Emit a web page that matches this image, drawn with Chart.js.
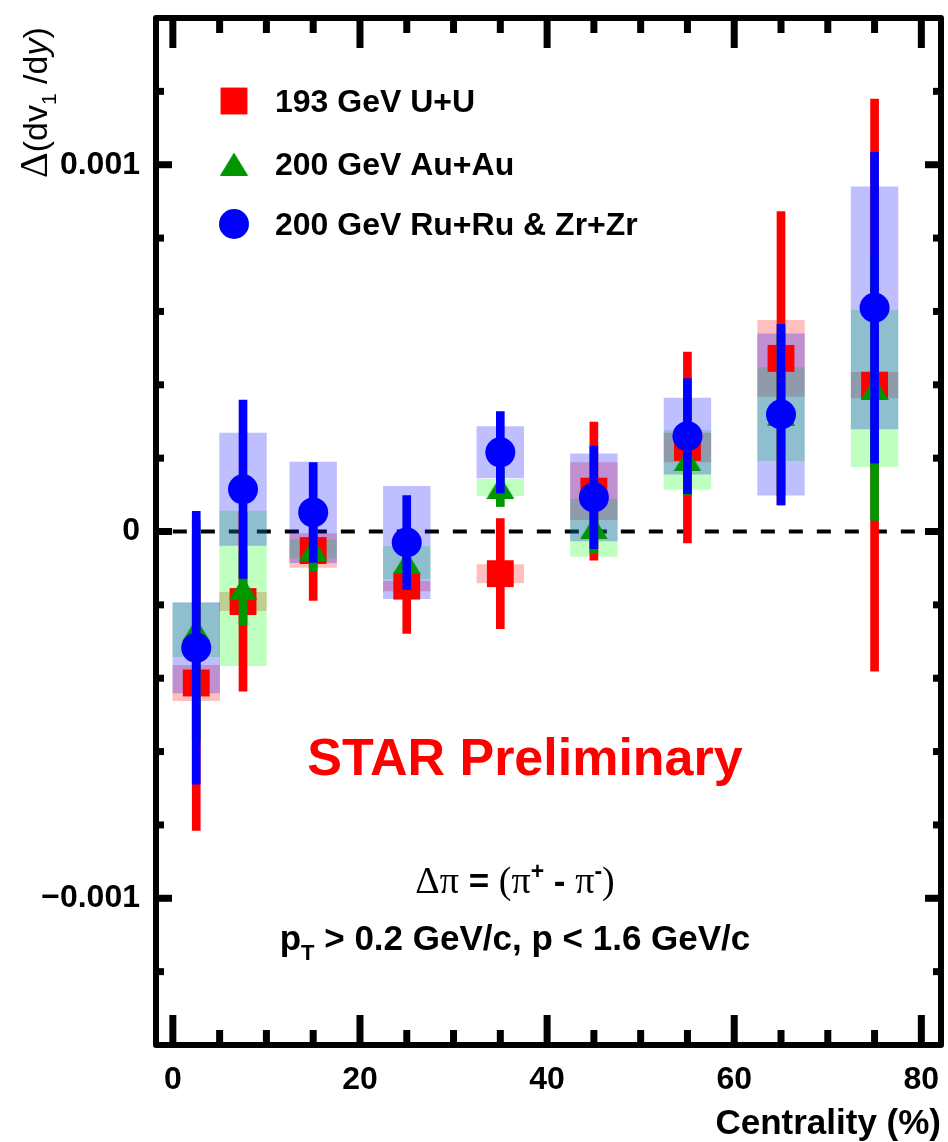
<!DOCTYPE html>
<html>
<head>
<meta charset="utf-8">
<script src="https://cdn.jsdelivr.net/npm/chart.js@4.4.1/dist/chart.umd.min.js"></script>
<style>
  html, body { margin: 0; padding: 0; background: #fff; }
  #chart { display: block; }
</style>
</head>
<body>
<canvas id="chart" width="948" height="1142"></canvas>
<script>
// centrality bin centres (%)
const centrality = [2.5, 7.5, 15, 25, 35, 45, 55, 65, 75];

// 193 GeV U+U
const uuValue = [-0.000413, -0.000191, -0.000052, -0.000149, -0.000115, 0.000110, 0.000229, 0.000472, 0.000399];
const uuStat  = [ 0.000402,  0.000244,  0.000136,  0.000129,  0.000150, 0.000188, 0.000260, 0.000400, 0.000780];
const uuSys   = [ 0.000048,  0.000025,  0.000046,  0.000013,  0.000025, 0.000078, 0.000039, 0.000104, 0.000035];

// 200 GeV Au+Au
const auValue = [-0.000268, -0.000155, -0.000048, -0.000085, 0.000120, 0.000010, 0.000195, 0.000320, 0.000390];
const auStat  = [ 0.000300,  0.000100,  0.000060,  0.000040, 0.000052, 0.000070, 0.000095, 0.000220, 0.000360];
const auSys   = [ 0.000073,  0.000211,  0.000025,  0.000044, 0.000022, 0.000078, 0.000080, 0.000127, 0.000213];

// 200 GeV Ru+Ru & Zr+Zr
const ruValue = [-0.000317, 0.000115, 0.000052, -0.000030, 0.000216, 0.000093, 0.000260, 0.000319, 0.000610];
const ruStat  = [ 0.000372, 0.000243, 0.000136,  0.000128, 0.000111, 0.000140, 0.000157, 0.000246, 0.000424];
const ruSys   = [ 0.000123, 0.000153, 0.000137,  0.000153, 0.000070, 0.000119, 0.000104, 0.000220, 0.000330];

const seriesLabels = ['193 GeV U+U', '200 GeV Au+Au', '200 GeV Ru+Ru & Zr+Zr'];

// axes
const xMin = -1.8, xMax = 82.1;
const yMin = -0.0014, yMax = 0.0014;
const xMajorTicks = [0, 20, 40, 60, 80];
const xMinorTicks = [5, 10, 15, 25, 30, 35, 45, 50, 55, 65, 70, 75];
const yMajorTicks = [-0.001, 0, 0.001];
const yMinorTicks = [-0.0012, -0.0008, -0.0006, -0.0004, -0.0002, 0.0002, 0.0004, 0.0006, 0.0008, 0.0012];

const FONT = "'Liberation Sans', Arial, Helvetica, sans-serif";
const SERIF = "'Liberation Serif', 'Times New Roman', serif";
Chart.defaults.font.family = FONT;
Chart.defaults.color = '#000';

// triangle marker centred on its bounding box (like ROOT)
function makeTriangle(w, h, color) {
  const c = document.createElement('canvas');
  c.width = w; c.height = h;
  const g = c.getContext('2d');
  g.fillStyle = color;
  g.beginPath();
  g.moveTo(0, h); g.lineTo(w / 2, 0); g.lineTo(w, h); g.closePath();
  g.fill();
  return c;
}
const triangle = makeTriangle(28, 23, '#009600');

function boxData(v, s) { return centrality.map((c, i) => ({ x: c, y: [v[i] - s[i], v[i] + s[i]] })); }
function pointData(v) { return centrality.map((c, i) => ({ x: c, y: v[i] })); }

function boxSet(label, v, s, color, order) {
  return { type: 'bar', label, data: boxData(v, s), backgroundColor: color, borderWidth: 0,
           grouped: false, barPercentage: 1, categoryPercentage: 1, order, isBox: true };
}
function errSet(label, v, e, color, order) {
  return { type: 'bar', label, data: boxData(v, e), backgroundColor: color, borderWidth: 0,
           grouped: false, barThickness: 8, order, isErr: true };
}
function markerSet(label, v, color, style, radius, order) {
  return { type: 'scatter', label, data: pointData(v), backgroundColor: color, pointBackgroundColor: color,
           pointStyle: style, pointRadius: radius, pointBorderWidth: 0, borderWidth: 0, order, isMarker: true };
}

const datasets = [
  boxSet('uuSys', uuValue, uuSys, 'rgba(255,0,0,0.25)', 12),
  boxSet('auSys', auValue, auSys, 'rgba(0,255,0,0.25)', 11),
  boxSet('ruSys', ruValue, ruSys, 'rgba(0,0,255,0.25)', 10),
  errSet('uuStat', uuValue, uuStat, '#ff0000', 6),
  markerSet(seriesLabels[0], uuValue, '#ff0000', 'rect', 19, 5),
  errSet('auStat', auValue, auStat, '#009600', 4),
  markerSet(seriesLabels[1], auValue, '#009600', triangle, 14, 3),
  errSet('ruStat', ruValue, ruStat, '#0000ff', 2),
  markerSet(seriesLabels[2], ruValue, '#0000ff', 'circle', 15, 1),
];

function drawRuns(ctx, runs, x, y, align) {
  let total = 0;
  runs.forEach(r => { ctx.font = r.font; r.w = ctx.measureText(r.text).width; total += r.w; });
  let cx = align === 'center' ? x - total / 2 : x;
  ctx.textAlign = 'left';
  ctx.textBaseline = 'alphabetic';
  runs.forEach(r => { ctx.font = r.font; ctx.fillText(r.text, cx, y + (r.dy || 0)); cx += r.w; });
}

// dashed zero line under the boxes
const zeroLine = {
  id: 'zeroLine',
  beforeDatasetsDraw(chart) {
    const { ctx, chartArea, scales } = chart;
    const y = scales.y.getPixelForValue(0);
    ctx.save();
    ctx.strokeStyle = '#000';
    ctx.lineWidth = 4;
    ctx.setLineDash([14, 14]);
    ctx.beginPath();
    ctx.moveTo(scales.x.getPixelForValue(0), y);
    ctx.lineTo(chartArea.right, y);
    ctx.stroke();
    ctx.restore();
  }
};

// thick frame with inward ticks on all four sides
const frame = {
  id: 'frame',
  afterDatasetsDraw(chart) {
    const { ctx, chartArea: a, scales } = chart;
    ctx.save();
    ctx.strokeStyle = '#000';
    ctx.lineWidth = 7;
    ctx.lineCap = 'butt';
    const xt = (vals, len) => vals.forEach(v => {
      const px = scales.x.getPixelForValue(v);
      ctx.beginPath(); ctx.moveTo(px, a.bottom); ctx.lineTo(px, a.bottom - len); ctx.stroke();
      ctx.beginPath(); ctx.moveTo(px, a.top); ctx.lineTo(px, a.top + len); ctx.stroke();
    });
    const yt = (vals, len) => vals.forEach(v => {
      const py = scales.y.getPixelForValue(v);
      ctx.beginPath(); ctx.moveTo(a.left, py); ctx.lineTo(a.left + len, py); ctx.stroke();
      ctx.beginPath(); ctx.moveTo(a.right, py); ctx.lineTo(a.right - len, py); ctx.stroke();
    });
    xt(xMajorTicks, 30); xt(xMinorTicks, 15);
    yt(yMajorTicks, 16); yt(yMinorTicks, 8);
    ctx.lineWidth = 6;
    ctx.lineJoin = 'round';
    ctx.strokeRect(a.left, a.top, a.right - a.left, a.bottom - a.top);
    ctx.restore();
  }
};

// legend, labels and annotations
const annotations = {
  id: 'annotations',
  afterDraw(chart) {
    const { ctx } = chart;
    ctx.save();
    ctx.fillStyle = '#000';

    // legend
    const markers = chart.data.datasets.filter(d => d.isMarker);
    const rowY = [101, 164, 224];
    markers.forEach((d, i) => {
      ctx.fillStyle = d.backgroundColor;
      Chart.helpers.drawPoint(ctx, { pointStyle: d.pointStyle, radius: d.pointRadius, rotation: 0, borderWidth: 0 }, 234, rowY[i]);
      ctx.fillStyle = '#000';
      ctx.font = `bold 32px ${FONT}`;
      ctx.textAlign = 'left';
      ctx.textBaseline = 'middle';
      ctx.fillText(d.label, 275, rowY[i] + 2);
    });

    // STAR Preliminary
    ctx.fillStyle = '#ff0000';
    ctx.font = `bold 52px ${FONT}`;
    ctx.textAlign = 'center';
    ctx.textBaseline = 'alphabetic';
    ctx.fillText('STAR Preliminary', 525, 775);

    // delta pi definition
    ctx.fillStyle = '#000';
    drawRuns(ctx, [
      { text: 'Δπ', font: `38px ${SERIF}` },
      { text: ' = ', font: `bold 35px ${FONT}` },
      { text: '(π', font: `38px ${SERIF}` },
      { text: '+', font: `bold 23px ${FONT}`, dy: -14 },
      { text: ' - ', font: `bold 35px ${FONT}` },
      { text: 'π', font: `38px ${SERIF}` },
      { text: '-', font: `bold 23px ${FONT}`, dy: -14 },
      { text: ')', font: `38px ${SERIF}` },
    ], 515, 893, 'center');

    drawRuns(ctx, [
      { text: 'p', font: `bold 35px ${FONT}` },
      { text: 'T', font: `bold 22px ${FONT}`, dy: 10 },
      { text: ' > 0.2 GeV/c, p < 1.6 GeV/c', font: `bold 35px ${FONT}` },
    ], 515, 950, 'center');

    // y axis title
    ctx.translate(47, 178);
    ctx.rotate(-Math.PI / 2);
    drawRuns(ctx, [
      { text: 'Δ', font: `40px ${SERIF}` },
      { text: '(dv', font: `34px ${FONT}` },
      { text: '1', font: `21px ${FONT}`, dy: 9 },
      { text: ' /d', font: `34px ${FONT}` },
      { text: 'y', font: `italic 34px ${FONT}` },
      { text: ')', font: `34px ${FONT}` },
    ], 0, 0, 'left');
    ctx.restore();
  }
};

function formatY(v) {
  if (Math.abs(v) < 1e-12) return '0';
  return (v < 0 ? '\u2212' : '') + Math.abs(v).toFixed(3);
}

new Chart(document.getElementById('chart'), {
  type: 'scatter',
  data: { datasets },
  options: {
    responsive: false,
    animation: false,
    events: [],
    layout: { autoPadding: false, padding: { top: 18, right: 7, bottom: 0, left: 0 } },
    plugins: { legend: { display: false }, tooltip: { enabled: false } },
    scales: {
      x: {
        type: 'linear', min: xMin, max: xMax, offset: false,
        grid: { display: false, drawTicks: false },
        border: { display: false },
        afterBuildTicks: s => { s.ticks = xMajorTicks.map(v => ({ value: v })); },
        afterFit: s => { s.height = 97; s.paddingLeft = 0; s.paddingRight = 0; },
        ticks: { padding: 16, maxRotation: 0, autoSkip: false, color: '#000',
                 font: { size: 32, weight: 'bold' } },
        title: { display: true, text: 'Centrality (%)', align: 'end', color: '#000',
                 font: { size: 35, weight: 'bold', lineHeight: 1 }, padding: { top: 0, bottom: 0 } }
      },
      y: {
        type: 'linear', min: yMin, max: yMax,
        grid: { display: false, drawTicks: false },
        border: { display: false },
        afterBuildTicks: s => { s.ticks = yMajorTicks.map(v => ({ value: v })); },
        afterFit: s => { s.width = 156; s.paddingTop = 0; s.paddingBottom = 0; },
        ticks: { padding: 16, color: '#000', font: { size: 32, weight: 'bold' }, callback: v => formatY(v) }
      }
    }
  },
  plugins: [zeroLine, frame, annotations]
});
</script>
</body>
</html>
